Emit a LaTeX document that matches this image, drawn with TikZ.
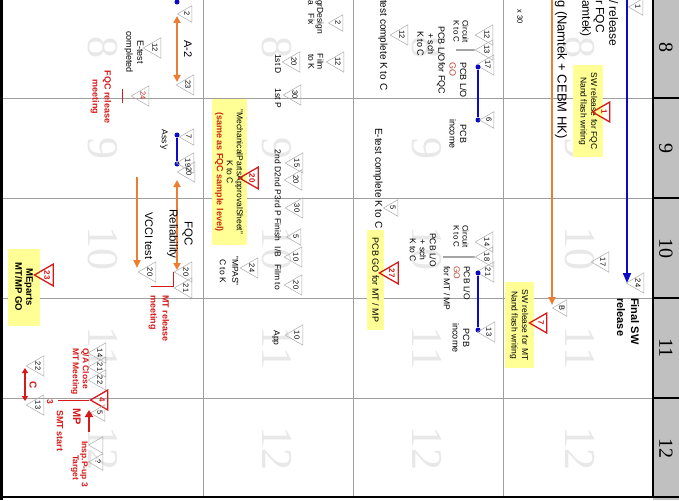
\documentclass[tikz,border=0pt]{standalone}
\usepackage{fontspec}
\setmainfont{Liberation Sans}
\newfontfamily\numfont{Liberation Serif}
\usetikzlibrary{shapes.geometric,arrows.meta}

\definecolor{planblue}{RGB}{10,10,200}
\definecolor{planorange}{RGB}{237,125,49}
\definecolor{planred}{RGB}{215,25,25}
\definecolor{gobrown}{RGB}{190,70,50}
\definecolor{memoyellow}{RGB}{255,255,150}
\definecolor{memored}{RGB}{200,40,20}
\definecolor{headgray}{RGB}{192,192,192}

\tikzset{
  txt/.style={rotate=-90, inner sep=0pt, align=center, font=\fontsize{8}{9}\selectfont},
  pcbtxt/.style={txt, font=\fontsize{9}{10.5}\selectfont},
  redtxt/.style={txt, text=planred, font=\bfseries\fontsize{8.5}{12}\selectfont},
  memo/.style={txt, fill=memoyellow},
  tri/.style={regular polygon, regular polygon sides=3, shape border rotate=180, rotate=-90,
    draw=gray!65, line width=0.5pt, inner sep=0pt, minimum size=19pt, font=\fontsize{7.5}{8}\selectfont},
  redtri/.style={tri, draw=planred, line width=1.3pt, minimum size=23pt, text=planred,
    font=\bfseries\fontsize{8}{9}\selectfont},
  dot/.style={circle, fill=planblue, inner sep=0pt, minimum size=5pt},
  bluelink/.style={planblue, line width=1.6pt},
  bluearrow/.style={planblue, line width=1.8pt, -{Triangle[length=10pt,width=8pt]}},
  orangearrow/.style={planorange, line width=2pt, -{Triangle[length=8pt,width=7pt]}},
  orangeboth/.style={planorange, line width=2pt, {Triangle[length=7pt,width=7pt]}-{Triangle[length=7pt,width=7pt]}},
  redlink/.style={planred, line width=0.9pt},
  redarrow/.style={planred, line width=2.2pt, -{Triangle[length=7pt,width=8pt]}},
  redboth/.style={planred, line width=1.6pt, {Triangle[length=5pt,width=6pt]}-{Triangle[length=5pt,width=6pt]}},
  gridline/.style={draw=gray!75, line width=0.6pt},
  wmark/.style={rotate=-90, text=black!9, font=\numfont\fontsize{44}{44}\selectfont},
  headnum/.style={rotate=-90, font=\numfont\fontsize{20}{20}\selectfont},
}

\begin{document}
\begin{tikzpicture}[x=1pt,y=-1pt]
\path[use as bounding box,fill=white] (0,0) rectangle (679,500);

% month watermarks
\foreach \cx in {103,277,427,580}
  \foreach \m/\cy in {8/48,9/148,10/248,11/348,12/448}
    \node[wmark] (wm-\cx-\m) at (\cx,\cy) {\m};

% grid and header column
\fill[headgray] (653,0) rectangle (679,500);
\foreach \y in {98,198,298,398} \draw[gridline] (0,\y) -- (653,\y);
\foreach \x in {203,353,503} \draw[gridline] (\x,0) -- (\x,497);
\foreach \y in {98,198,298,398} \draw[line width=1.2pt] (653,\y) -- (679,\y);
\draw[line width=1.5pt] (653,0) -- (653,497);
\draw[line width=2pt] (0,497) -- (679,497);
\draw[line width=3pt] (1,0) -- (1,500);
\foreach \m/\cy in {8/48,9/148,10/248,11/348,12/448}
  \node[headnum] (head-\m) at (666,\cy) {\m};

% SW release track
\coordinate (swtop) at (627,0);
\coordinate (swend) at (627,283);
\draw[bluearrow] (swtop) -- (swend);
\node[tri] (t1top) at (638,7) {1};
\node[tri] (t17a) at (603,262) {17};
\node[tri] (t24a) at (638,283) {24};
\node[txt, anchor=west, align=left, font=\bfseries\fontsize{11}{14}\selectfont] (finalsw) at (628,298) {Final SW\\release};
\node[txt, anchor=west, align=left, font=\fontsize{12}{13.5}\selectfont] (swfqctop) at (599,0) {/ release\\r FQC\\amtek)};
\coordinate (ortop) at (552,0);
\coordinate (orend) at (552,305);
\draw[orangearrow] (ortop) -- (orend);
\node[txt, anchor=west, font=\fontsize{13}{14}\selectfont] (namtek) at (561,0) {g (Namtek + CEBM HK)};
\node[tri] (tB) at (562,308) {B};
\node[txt, font=\fontsize{7.5}{8}\selectfont] (x30) at (520,17) {x 30};
\node[memo, minimum width=92pt, minimum height=30pt, font=\fontsize{8.5}{10.5}\selectfont] (swfqc) at (588,111) {SW release for FQC\\Nand flash writing};
\node[redtri] (r1) at (604,112) {1};
\node[memo, minimum width=86pt, minimum height=29pt, font=\fontsize{8.5}{10.5}\selectfont] (swmt) at (519,325) {SW release for MT\\Nand flash writing};
\node[redtri] (r7) at (541,323) {7};

% PCB for FQC
\node[tri] (t12a) at (487,35) {12};
\node[tri] (t13a) at (487,50) {13};
\node[tri] (t17b) at (488,65) {17};
\node[dot] (d1) at (478,67) {};
\node[dot] (d2) at (478,120) {};
\draw[bluelink] (d1) -- (d2);
\node[tri] (t6) at (489,120) {6};
\node[txt, anchor=west] (circ1) at (461,20) {Circuit\\K to C};
\coordinate (circ1end) at (456,50);
\draw[line width=0.6pt] (t13a.south) -- (circ1end);
\node[pcbtxt, anchor=west, align=left] (golo1) at (458,62) {PCB L/O\\\textcolor{gobrown}{GO}};
\node[pcbtxt] (sch1) at (431,44) {PCB L/O\\+ sch\\K to C};
\node[pcbtxt, anchor=west] (forfqc) at (441,62) {for FQC};
\node[pcbtxt] (inc1) at (458,134) {PCB\\income};
\node[txt, anchor=west, font=\fontsize{10}{11}\selectfont] (etest1) at (383,0) {test complete K to C};
\node[tri] (t12b) at (402,35) {12};
\node[txt, anchor=west, font=\fontsize{10}{11}\selectfont] (etest2) at (378,128) {E-test complete K to C};
\node[tri] (t5a) at (393,208) {5};

% PCB for MT / MP
\node[tri] (t14a) at (487,242) {14};
\node[tri] (t18) at (487,257) {18};
\node[tri] (t21a) at (488,272) {21};
\node[dot] (d3) at (478,273) {};
\node[dot] (d4) at (478,330) {};
\draw[bluelink] (d3) -- (d4);
\node[tri] (t13b) at (489,332) {13};
\node[txt, anchor=west] (circ2) at (461,225) {Circuit\\K to C};
\coordinate (circ2end) at (443,257);
\draw[line width=0.6pt] (t18.south) -- (circ2end);
\node[pcbtxt, anchor=west, align=left, font=\fontsize{8.5}{10}\selectfont] (golo2) at (457,266) {PCB L/O\\\textcolor{gobrown}{GO}\\for MT / MP};
\node[pcbtxt, font=\fontsize{8.5}{10}\selectfont] (sch2) at (423,250) {PCB L/O\\+ sch\\K to C};
\node[pcbtxt] (inc2) at (461,338) {PCB\\income};
\node[memo, minimum width=100pt, minimum height=17pt, font=\fontsize{9}{10}\selectfont] (pcbgo) at (375.5,280) {PCB GO for MT / MP};
\node[redtri] (r27) at (392,273) {27};

% mechanical parts
\node[tri] (t2a) at (338,23) {2};
\node[tri] (t12c) at (338,62) {12};
\node[tri] (t20a) at (294,62) {20};
\node[tri] (t30a) at (295,95) {30};
\node[txt, anchor=west, align=left, font=\fontsize{8.5}{9}\selectfont] (design) at (316,0) {grDesign\\a\hspace{9pt}Fix};
\node[txt, font=\fontsize{8.5}{9}\selectfont] (film) at (316,62) {Film\\to K};
\node[txt, font=\fontsize{8.5}{9}\selectfont] (st1d) at (278,64) {1st D};
\node[txt, font=\fontsize{8.5}{9}\selectfont] (st1p) at (278,98) {1st P};
\node[tri] (t15) at (297,163) {15};
\node[tri] (t20b) at (296,180) {20};
\node[tri] (t30b) at (297,208) {30};
\node[tri] (t5b) at (296,237) {5};
\node[tri] (t10a) at (296,257) {10};
\node[tri] (t20c) at (296,285) {20};
\node[txt, font=\fontsize{8.5}{9}\selectfont] (nd2d) at (278,161) {2nd D};
\node[txt, font=\fontsize{8.5}{9}\selectfont] (nd2p) at (278,184) {2nd P};
\node[txt, font=\fontsize{8.5}{9}\selectfont] (rd3p) at (278,206) {3rd P};
\node[txt, font=\fontsize{8.5}{9}\selectfont] (finish) at (278,230) {Finish};
\node[txt, font=\fontsize{8.5}{9}\selectfont] (ib) at (278,252) {I/B};
\node[txt, font=\fontsize{8.5}{9}\selectfont] (filmto) at (278,277) {Film to};
\node[tri] (t10b) at (297,335) {10};
\node[txt, font=\fontsize{8.5}{9}\selectfont] (app) at (276,338) {App};
\node[tri] (t24b) at (252,268) {24};
\node[txt, font=\fontsize{8.5}{12.5}\selectfont] (mpas) at (229,271) {"MPAS"\\C to K};
\node[memo, minimum width=145pt, minimum height=35pt, font=\fontsize{8.5}{10}\selectfont] (mpassheet) at (229,172) {"MechanicalPartsApprovalSheet"\\K to C\\\textcolor{memored}{\bfseries\fontsize{9}{10}\selectfont (same as FQC sample level)}};
\node[redtri] (r20) at (252,178) {20};

% assembly and reliability
\node[dot] (d5) at (177,2) {};
\coordinate (d5top) at (177,-4);
\draw[bluelink] (d5top) -- (d5);
\node[tri] (t2b) at (187,14) {2};
\coordinate (a2top) at (177,16);
\coordinate (a2end) at (177,82);
\draw[orangeboth] (a2top) -- (a2end);
\node[txt, font=\fontsize{11}{12}\selectfont] (a2) at (188,49) {A-2};
\node[tri] (t23a) at (188,85) {23};
\node[tri] (t12d) at (155,48) {12};
\node[txt, font=\fontsize{9}{11}\selectfont] (etestc) at (134,52) {E-test\\completed};
\node[tri, text=planred] (t24c) at (143,96) {24};
\coordinate (fqcm1) at (122,89);
\coordinate (fqcm2) at (122,103);
\draw[redlink] (fqcm1) -- (fqcm2);
\node[redtxt, font=\bfseries\fontsize{9}{12}\selectfont] (fqcmeet) at (101,97) {FQC release\\meeting};
\node[dot] (d6) at (177,135) {};
\node[dot] (d7) at (177,164) {};
\draw[bluelink] (d6) -- (d7);
\node[tri] (t7) at (189,137) {7};
\node[tri] (t19) at (188,163) {19};
\node[tri] (t20d) at (189,172) {20};
\node[txt, font=\fontsize{8.5}{9}\selectfont] (assy) at (164,140) {Ass'y};
\coordinate (reltop) at (177,180);
\coordinate (relend) at (177,270);
\draw[orangeboth] (reltop) -- (relend);
\node[txt, font=\fontsize{11.5}{15}\selectfont] (reliab) at (180,234) {FQC\\Reliability};
\coordinate (vccitop) at (137,177);
\coordinate (vcciend) at (137,268);
\draw[orangearrow] (vccitop) -- (vcciend);
\node[txt, font=\fontsize{11}{12}\selectfont] (vcci) at (149,236) {VCCI test};
\node[tri] (t20e) at (150,272) {20};
\node[tri] (t20f) at (186,272) {20};
\node[tri] (t21b) at (186,288) {21};
\coordinate (mtm1) at (173,272);
\coordinate (mtm2) at (151,286);
\draw[redlink] (mtm1) |- (mtm2);
\node[redtxt, anchor=west, align=left, font=\bfseries\fontsize{9}{12}\selectfont] (mtmeet) at (159,295) {MT release\\meeting};
\node[memo, minimum width=77pt, minimum height=32pt, font=\bfseries\fontsize{9.5}{11}\selectfont] (meparts) at (24,287) {MEparts\\MT/MP GO};
\node[redtri] (r23) at (47,275) {23};

% MP start
\node[tri] (t14b) at (100,353) {14};
\node[tri] (t21c) at (100,367) {21};
\node[tri] (t22a) at (100,380) {22};
\node[redtri] (r4) at (102,400) {4};
\node[tri] (t5c) at (100,413) {5};
\node[tri] (tq1) at (98,445) {};
\node[tri] (tq2) at (98,462) {?};
\node[redtxt, anchor=west] (qaclose) at (85,348) {Q/A Close};
\node[redtxt, anchor=west] (mtmeet2) at (75,348) {MT Meeting};
\coordinate (smt) at (58,400);
\draw[redlink] (r4.south) -- (smt);
\node[redtxt] (three) at (50,402) {3};
\node[redtxt, anchor=west, font=\bfseries\fontsize{9}{10}\selectfont] (smtstart) at (60,410) {SMT start};
\node[redtxt, font=\bfseries\fontsize{11}{12}\selectfont] (mp) at (77,417) {MP};
\coordinate (mpup1) at (89,432);
\coordinate (mpup2) at (89,410);
\draw[redarrow] (mpup1) -- (mpup2);
\node[redtxt, anchor=west] (insp) at (84,441) {Insp.P-up 3};
\node[redtxt, anchor=west] (target) at (75,455) {Target};
\coordinate (ctop) at (25,368);
\coordinate (cend) at (25,401);
\draw[redboth] (ctop) -- (cend);
\node[redtxt, font=\bfseries\fontsize{10}{11}\selectfont] (clbl) at (33,385) {C};
\node[tri] (t22b) at (38,366) {22};
\node[tri] (t13c) at (38,405) {13};
\end{tikzpicture}
\end{document}
